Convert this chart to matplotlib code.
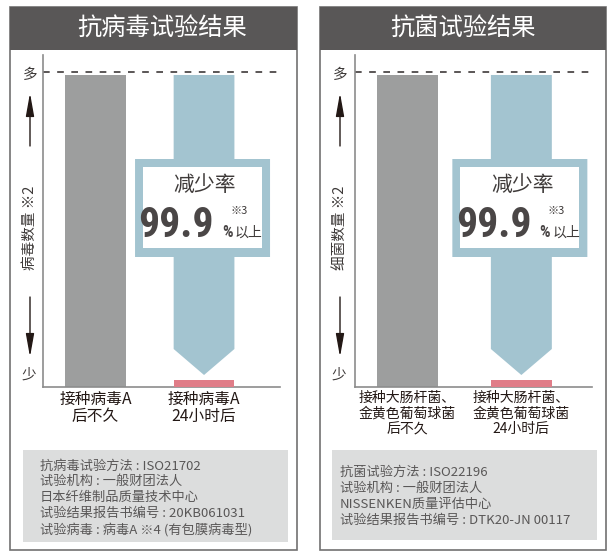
import matplotlib.pyplot as plt
from matplotlib.patches import Rectangle, Polygon

plt.rcParams['font.family'] = ['Noto Sans CJK SC', 'DejaVu Sans']

W, H = 609, 552

# ---- data ----
titles = ['抗病毒试验结果', '抗菌试验结果']
count_labels = ['病毒数量 ※2', '细菌数量 ※2']
virus_categories = ['接种病毒A\n后不久', '接种病毒A\n24小时后']
bacteria_categories = ['接种大肠杆菌、\n金黄色葡萄球菌\n后不久',
                       '接种大肠杆菌、\n金黄色葡萄球菌\n24小时后']
virus_counts = [100, 2.2]      # relative
bacteria_counts = [100, 2.2]
max_level = 101                # dashed "多" line
reduction = '99.9'
virus_notes = ['抗病毒试验方法 : ISO21702',
               '试验机构 : 一般财团法人',
               '日本纤维制品质量技术中心',
               '试验结果报告书编号 : 20KB061031',
               '试验病毒 : 病毒A ※4 (有包膜病毒型)']
bacteria_notes = ['抗菌试验方法 : ISO22196',
                  '试验机构 : 一般财团法人',
                  'NISSENKEN质量评估中心',
                  '试验结果报告书编号 : DTK20-JN 00117']

GRAY_BAR = '#9d9e9e'
BLUE = '#a3c4d0'
PINK = '#e07d88'
TITLE_BG = '#595757'
NOTE_BG = '#dcdddd'
BORDER = '#727171'
TEXT = '#3e3a39'
NUM_FONT = ['Roboto Condensed', 'Liberation Sans']

# pixel layout of the two panels (left, top, right, bottom)
panels = [
    dict(frame=(10, 7, 297, 550), title_x=162, ax=(43, 55, 280, 387), xlim=(-0.484, 1.70),
         width=0.56, ylab_x=30, note=(23, 450, 288, 542), note_x=40, note_y=466,
         note_step=15.8, cat_size=11.3, cat_spacing=1.02,
         cats=virus_categories, counts=virus_counts, notes=virus_notes),
    dict(frame=(320, 7, 606, 550), title_x=463, ax=(355, 55, 592, 387), xlim=(-0.46, 1.62),
         width=0.535, ylab_x=340, note=(332, 450, 597, 540), note_x=340, note_y=472,
         note_step=16, cat_size=10, cat_spacing=1.15,
         cats=bacteria_categories, counts=bacteria_counts, notes=bacteria_notes),
]

fig = plt.figure(figsize=(W / 100, H / 100), dpi=100)

# overlay in pixel coordinates (top-down)
ov = fig.add_axes([0, 0, 1, 1], zorder=5)
ov.set_xlim(0, W)
ov.set_ylim(H, 0)
ov.axis('off')
ov.patch.set_alpha(0)

for i, p in enumerate(panels):
    fx0, fy0, fx1, fy1 = p['frame']
    ov.add_patch(Rectangle((fx0, fy0), fx1 - fx0, fy1 - fy0, fill=False,
                           ec=BORDER, lw=1.2))
    ov.add_patch(Rectangle((fx0, fy0), fx1 - fx0, 43, color=TITLE_BG, lw=0))
    ov.text(p['title_x'], 29, titles[i], color='white', fontsize=17.5,
            ha='center', va='center')

    # bar axes
    x0, y0, x1, y1 = p['ax']
    ax = fig.add_axes([x0 / W, (H - y1) / H, (x1 - x0) / W, (y1 - y0) / H])
    ax.set_xlim(*p['xlim'])
    ax.set_ylim(0, 106.4)
    for s in ['top', 'right']:
        ax.spines[s].set_visible(False)
    for s in ['left', 'bottom']:
        ax.spines[s].set_color('#8c8c8c')
        ax.spines[s].set_linewidth(1.2)
    ax.set_yticks([])
    ax.set_xticks([0, 1])
    ax.set_xticklabels(p['cats'], fontsize=p['cat_size'], color='#231815',
                       linespacing=p['cat_spacing'])
    ax.tick_params(axis='x', length=0, pad=3)
    ax.axhline(max_level, color='#3e3a39', lw=1.2, dashes=(4, 4.5))

    before, after = p['counts']
    w = p['width']
    ax.bar(0, before, w, color=GRAY_BAR, zorder=2)
    ax.bar(1, after, w, color=PINK, zorder=3)

    # blue column turning into an arrow, anchored on the "before" level
    cx, dy = ax.transData.transform((1, before))
    ty = H - dy
    hw = ax.transData.transform((1 + w / 2, 0))[0] - cx
    pts = [(cx - hw, ty), (cx + hw, ty), (cx + hw, 159), (cx + 66, 159), (cx + 66, 257),
           (cx + hw, 257), (cx + hw, 349), (cx, 375), (cx - hw, 349), (cx - hw, 257),
           (cx - 69, 257), (cx - 69, 159), (cx - hw, 159)]
    inv = ax.transData.inverted()
    verts = [inv.transform((px, H - py)) for px, py in pts]
    ax.add_patch(Polygon(verts, closed=True, color=BLUE, lw=0, zorder=2, clip_on=False))

    ov.add_patch(Rectangle((cx - 61, 167), 119, 81, color='white', lw=0))
    ov.text(cx + 1, 185, '减少率', fontsize=15, color=TEXT, ha='center', va='center')
    ov.text(cx + 10, 237, reduction, fontsize=30, fontweight='bold', color='#4a4646',
            ha='right', va='baseline', family=NUM_FONT)
    ov.text(cx + 26, 211, '※3', fontsize=8, color=TEXT, ha='left', va='center')
    ov.text(cx + 18, 237, '%', fontsize=12, fontweight='bold', color='#4a4646',
            ha='left', va='baseline', family=NUM_FONT)
    ov.text(cx + 31, 237, '以上', fontsize=10, color=TEXT, ha='left', va='baseline')

    # y axis decorations
    lx = p['ylab_x']
    ov.text(lx, 75, '多', fontsize=10.5, color=TEXT, ha='center', va='center')
    ov.text(lx - 1, 375, '少', fontsize=10.5, color=TEXT, ha='center', va='center')
    ov.text(lx, 228, count_labels[i], fontsize=10.5, color=TEXT, rotation=90,
            ha='center', va='center')
    arrow = dict(arrowstyle='-|>,head_length=1.4,head_width=0.25', color='#231815',
                 lw=1, mutation_scale=10, shrinkA=0, shrinkB=0)
    ov.annotate('', xy=(lx, 93), xytext=(lx, 146), arrowprops=arrow)
    ov.annotate('', xy=(lx, 357), xytext=(lx, 297), arrowprops=arrow)

    # notes box
    nx0, ny0, nx1, ny1 = p['note']
    ov.add_patch(Rectangle((nx0, ny0), nx1 - nx0, ny1 - ny0, color=NOTE_BG, lw=0))
    for k, line in enumerate(p['notes']):
        ov.text(p['note_x'], p['note_y'] + k * p['note_step'], line, fontsize=9.5,
                color='#595757', ha='left', va='center')

fig.savefig('out.png', dpi=100)
